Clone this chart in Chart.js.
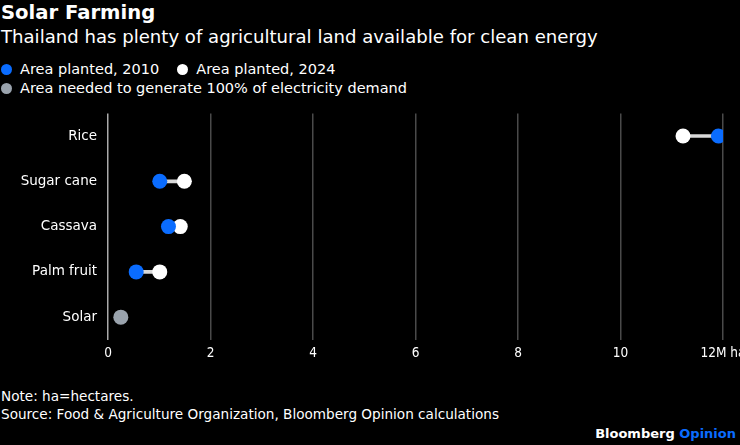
<!DOCTYPE html>
<html>
<head>
<meta charset="utf-8">
<script src="https://cdn.jsdelivr.net/npm/chart.js@4"></script>
<style>
  html, body { margin: 0; padding: 0; background: #000; }
  body { width: 740px; height: 445px; overflow: hidden; position: relative; font-family: "DejaVu Sans", sans-serif; color: #fff; }
  .title { position: absolute; left: 1px; top: 1px; font-size: 19.6px; font-weight: bold; }
  .subtitle { position: absolute; left: 1px; top: 26px; font-size: 18.1px; }
  .legend { position: absolute; left: 1px; font-size: 14.5px; white-space: nowrap; }
  .legend span.item { margin-right: 18px; }
  .dot { display: inline-block; width: 11px; height: 11px; border-radius: 50%; margin-right: 8px; vertical-align: -1px; }
  .note { position: absolute; left: 1px; font-size: 13.6px; color: #fff; }
  .brand { position: absolute; right: 4px; top: 426px; font-size: 13px; font-weight: bold; }
  #wrap { position: absolute; left: 0; top: 100px; width: 740px; height: 268px; }
</style>
</head>
<body>
<div class="title">Solar Farming</div>
<div class="subtitle">Thailand has plenty of agricultural land available for clean energy</div>
<div class="legend" style="top:61px"><span class="item"><span class="dot" style="background:#0a6cff"></span>Area planted, 2010</span><span class="item"><span class="dot" style="background:#fff"></span>Area planted, 2024</span></div>
<div class="legend" style="top:80px"><span class="dot" style="background:#9aa3ad"></span>Area needed to generate 100% of electricity demand</div>
<div id="wrap"><canvas id="chart"></canvas></div>
<div class="note" style="top:388px">Note: ha=hectares.</div>
<div class="note" style="top:406px">Source: Food &amp; Agriculture Organization, Bloomberg Opinion calculations</div>
<div class="brand">Bloomberg <span style="color:#0a6cff">Opinion</span></div>

<script>
// Data (millions of hectares)
const categories = ['Rice', 'Sugar cane', 'Cassava', 'Palm fruit', 'Solar'];
const area2010 = [11.91, 1.01, 1.18, 0.55, null];
const area2024 = [11.22, 1.49, 1.41, 1.01, null];
const areaSolar = [null, null, null, null, 0.25];
const xTicks = [0, 2, 4, 6, 8, 10, 12];

const blue = '#0a6cff';
const gray = '#9aa3ad';

// connector ranges between the two years
const ranges = categories.map((c, i) =>
  area2010[i] != null && area2024[i] != null ? [area2010[i], area2024[i]] : null);

const toPoints = arr => arr.map((v, i) => v == null ? null : { x: v, y: categories[i] }).filter(p => p);

const ctx = document.getElementById('chart').getContext('2d');

const chart = new Chart(ctx, {
  type: 'bar',
  data: {
    labels: categories,
    datasets: [
      {
        type: 'scatter',
        label: '2024',
        data: toPoints(area2024),
        backgroundColor: '#ffffff',
        borderWidth: 0,
        pointRadius: 7.5,
        order: 2,
      },
      {
        type: 'scatter',
        label: '2010',
        data: toPoints(area2010),
        backgroundColor: blue,
        borderWidth: 0,
        pointRadius: 7.5,
        order: 1,
      },
      {
        type: 'scatter',
        label: 'Solar',
        data: toPoints(areaSolar),
        backgroundColor: gray,
        borderWidth: 0,
        pointRadius: 7.5,
        order: 1,
      },
      {
        label: 'range',
        data: ranges,
        backgroundColor: '#d9d9d9',
        barThickness: 3,
        order: 3,
      },
    ],
  },
  options: {
    indexAxis: 'y',
    responsive: true,
    maintainAspectRatio: false,
    animation: false,
    layout: { padding: { top: 13.4, right: 17, left: 0, bottom: 0 } },
    plugins: {
      legend: { display: false },
      tooltip: { enabled: false },
    },
    scales: {
      x: {
        type: 'linear',
        min: 0,
        max: 12,
        afterBuildTicks: s => { s.ticks = xTicks.map(v => ({ value: v })); },
        afterFit: s => { s.paddingRight = 0; s.paddingLeft = 0; },
        grid: {
          color: ctx => ctx.tick && ctx.tick.value === 0 ? '#aaaaaa' : '#4a4a4a',
          lineWidth: 1.5,
          drawTicks: false,
        },
        border: { display: false },
        ticks: {
          color: '#ffffff',
          font: { family: 'DejaVu Sans Condensed, DejaVu Sans', size: 13.5 },
          padding: 6,
          maxRotation: 0,
          callback: v => v === 12 ? '12M ha' : String(v),
        },
      },
      y: {
        type: 'category',
        offset: true,
        grid: { display: false },
        border: { display: false },
        afterFit: s => { s.width = 108; s.paddingTop = 0; s.paddingBottom = 0; },
        ticks: {
          color: '#ffffff',
          font: { family: 'DejaVu Sans', size: 13.5 },
          padding: 3,
        },
      },
    },
  },
});
</script>
</body>
</html>
